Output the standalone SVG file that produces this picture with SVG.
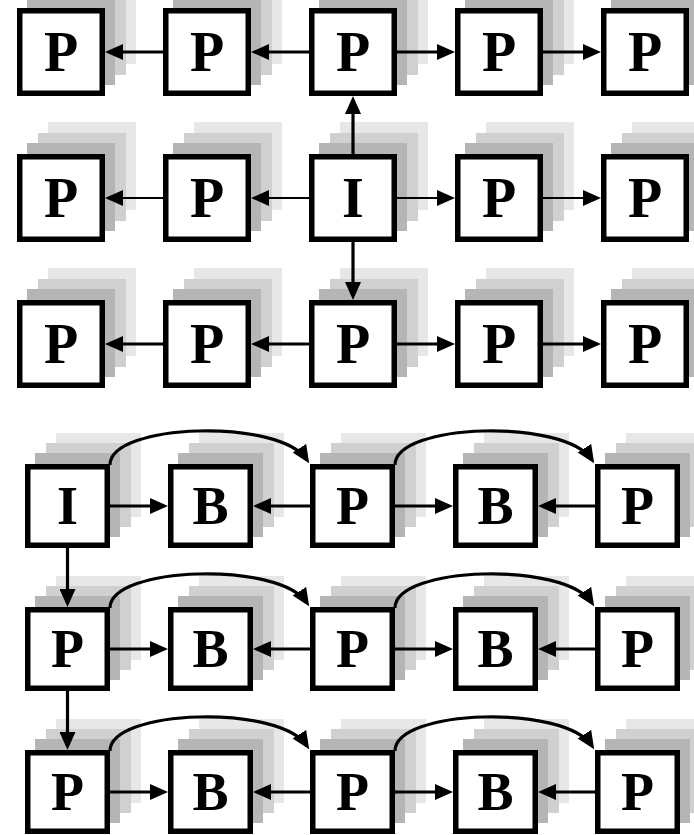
<svg xmlns="http://www.w3.org/2000/svg" xmlns:xlink="http://www.w3.org/1999/xlink" width="694" height="835" viewBox="0 0 694 835">
<style>
.bx{fill:#ffffff;stroke:#000;stroke-width:5.5}
.lt{font-family:'Liberation Serif','Times New Roman',Times,serif;font-weight:700;font-size:56px;text-anchor:middle;fill:#000}
.lb{font-family:'Liberation Serif','Times New Roman',Times,serif;font-weight:700;font-size:54px;text-anchor:middle;fill:#000}
.c{fill:none;stroke:#000;stroke-width:3.2;marker-end:url(#ah)}
.ct{fill:none;stroke:#000;stroke-width:1.8;marker-end:url(#ah)}
</style>
<defs>
<marker id="ah" markerUnits="userSpaceOnUse" viewBox="0 0 18 16" markerWidth="18" markerHeight="16" refX="14" refY="8" orient="auto">
<path d="M0,0 L18,8 L0,16 Z" fill="#000"/>
</marker>
<g id="shT">
<rect x="31" y="-32" width="88" height="88" fill="#e7e7e7"/>
<rect x="21" y="-21" width="88" height="88" fill="#d0d0d0"/>
<rect x="10" y="-11" width="88" height="88" fill="#b5b5b5"/>
</g>
<g id="shB">
<rect x="31" y="-31" width="85" height="84" fill="#e7e7e7"/>
<rect x="21" y="-21" width="85" height="84" fill="#d0d0d0"/>
<rect x="10" y="-11" width="85" height="84" fill="#b5b5b5"/>
</g>
</defs>
<rect width="694" height="835" fill="#ffffff"/>

<!-- top grid -->
<g id="t11"><use xlink:href="#shT" x="17" y="8"/><rect class="bx" x="19.75" y="10.75" width="82.5" height="82.5"/><text class="lt" font-family="Liberation Serif" x="61" y="70.5">P</text></g>
<g id="t12"><use xlink:href="#shT" x="163" y="8"/><rect class="bx" x="165.75" y="10.75" width="82.5" height="82.5"/><text class="lt" font-family="Liberation Serif" x="207" y="70.5">P</text></g>
<g id="t13"><use xlink:href="#shT" x="309" y="8"/><rect class="bx" x="311.75" y="10.75" width="82.5" height="82.5"/><text class="lt" font-family="Liberation Serif" x="353" y="70.5">P</text></g>
<g id="t14"><use xlink:href="#shT" x="455" y="8"/><rect class="bx" x="457.75" y="10.75" width="82.5" height="82.5"/><text class="lt" font-family="Liberation Serif" x="499" y="70.5">P</text></g>
<g id="t15"><use xlink:href="#shT" x="601" y="8"/><rect class="bx" x="603.75" y="10.75" width="82.5" height="82.5"/><text class="lt" font-family="Liberation Serif" x="645" y="70.5">P</text></g>

<g id="t21"><use xlink:href="#shT" x="17" y="154"/><rect class="bx" x="19.75" y="156.75" width="82.5" height="82.5"/><text class="lt" x="61" y="216.5">P</text></g>
<g id="t22"><use xlink:href="#shT" x="163" y="154"/><rect class="bx" x="165.75" y="156.75" width="82.5" height="82.5"/><text class="lt" x="207" y="216.5">P</text></g>
<g id="t23"><use xlink:href="#shT" x="309" y="154"/><rect class="bx" x="311.75" y="156.75" width="82.5" height="82.5"/><text class="lt" x="353" y="216.5">I</text></g>
<g id="t24"><use xlink:href="#shT" x="455" y="154"/><rect class="bx" x="457.75" y="156.75" width="82.5" height="82.5"/><text class="lt" x="499" y="216.5">P</text></g>
<g id="t25"><use xlink:href="#shT" x="601" y="154"/><rect class="bx" x="603.75" y="156.75" width="82.5" height="82.5"/><text class="lt" x="645" y="216.5">P</text></g>

<g id="t31"><use xlink:href="#shT" x="17" y="300"/><rect class="bx" x="19.75" y="302.75" width="82.5" height="82.5"/><text class="lt" x="61" y="362.5">P</text></g>
<g id="t32"><use xlink:href="#shT" x="163" y="300"/><rect class="bx" x="165.75" y="302.75" width="82.5" height="82.5"/><text class="lt" x="207" y="362.5">P</text></g>
<g id="t33"><use xlink:href="#shT" x="309" y="300"/><rect class="bx" x="311.75" y="302.75" width="82.5" height="82.5"/><text class="lt" x="353" y="362.5">P</text></g>
<g id="t34"><use xlink:href="#shT" x="455" y="300"/><rect class="bx" x="457.75" y="302.75" width="82.5" height="82.5"/><text class="lt" x="499" y="362.5">P</text></g>
<g id="t35"><use xlink:href="#shT" x="601" y="300"/><rect class="bx" x="603.75" y="302.75" width="82.5" height="82.5"/><text class="lt" x="645" y="362.5">P</text></g>

<!-- bottom section -->
<g id="b11"><use xlink:href="#shB" x="25" y="464"/><rect class="bx" x="27.75" y="466.75" width="79.5" height="78.5"/><text class="lb" x="67.5" y="524">I</text></g>
<g id="b12"><use xlink:href="#shB" x="168" y="464"/><rect class="bx" x="170.75" y="466.75" width="79.5" height="78.5"/><text class="lb" x="210.5" y="524">B</text></g>
<g id="b13"><use xlink:href="#shB" x="310" y="464"/><rect class="bx" x="312.75" y="466.75" width="79.5" height="78.5"/><text class="lb" x="352.5" y="524">P</text></g>
<g id="b14"><use xlink:href="#shB" x="453" y="464"/><rect class="bx" x="455.75" y="466.75" width="79.5" height="78.5"/><text class="lb" x="495.5" y="524">B</text></g>
<g id="b15"><use xlink:href="#shB" x="595" y="464"/><rect class="bx" x="597.75" y="466.75" width="79.5" height="78.5"/><text class="lb" x="637.5" y="524">P</text></g>

<g id="b21"><use xlink:href="#shB" x="25" y="607"/><rect class="bx" x="27.75" y="609.75" width="79.5" height="78.5"/><text class="lb" x="67.5" y="667">P</text></g>
<g id="b22"><use xlink:href="#shB" x="168" y="607"/><rect class="bx" x="170.75" y="609.75" width="79.5" height="78.5"/><text class="lb" x="210.5" y="667">B</text></g>
<g id="b23"><use xlink:href="#shB" x="310" y="607"/><rect class="bx" x="312.75" y="609.75" width="79.5" height="78.5"/><text class="lb" x="352.5" y="667">P</text></g>
<g id="b24"><use xlink:href="#shB" x="453" y="607"/><rect class="bx" x="455.75" y="609.75" width="79.5" height="78.5"/><text class="lb" x="495.5" y="667">B</text></g>
<g id="b25"><use xlink:href="#shB" x="595" y="607"/><rect class="bx" x="597.75" y="609.75" width="79.5" height="78.5"/><text class="lb" x="637.5" y="667">P</text></g>

<g id="b31"><use xlink:href="#shB" x="25" y="750"/><rect class="bx" x="27.75" y="752.75" width="79.5" height="78.5"/><text class="lb" x="67.5" y="810">P</text></g>
<g id="b32"><use xlink:href="#shB" x="168" y="750"/><rect class="bx" x="170.75" y="752.75" width="79.5" height="78.5"/><text class="lb" x="210.5" y="810">B</text></g>
<g id="b33"><use xlink:href="#shB" x="310" y="750"/><rect class="bx" x="312.75" y="752.75" width="79.5" height="78.5"/><text class="lb" x="352.5" y="810">P</text></g>
<g id="b34"><use xlink:href="#shB" x="453" y="750"/><rect class="bx" x="455.75" y="752.75" width="79.5" height="78.5"/><text class="lb" x="495.5" y="810">B</text></g>
<g id="b35"><use xlink:href="#shB" x="595" y="750"/><rect class="bx" x="597.75" y="752.75" width="79.5" height="78.5"/><text class="lb" x="637.5" y="810">P</text></g>

<g id="connectors">
<path class="c" d="M163,52 L109,52"/>
<path class="c" d="M309,52 L255,52"/>
<path class="c" d="M397,52 L451,52"/>
<path class="c" d="M543,52 L597,52"/>
<path class="c" d="M353,154 L353,100"/>
<path class="c" d="M353,242 L353,296"/>
<path class="ct" d="M163,198 L109,198"/>
<path class="ct" d="M309,198 L255,198"/>
<path class="ct" d="M397,198 L451,198"/>
<path class="ct" d="M543,198 L597,198"/>
<path class="c" d="M163,344 L109,344"/>
<path class="c" d="M309,344 L255,344"/>
<path class="c" d="M397,344 L451,344"/>
<path class="c" d="M543,344 L597,344"/>
<path class="c" d="M110,506 L164,506"/>
<path class="c" d="M310,506 L257,506"/>
<path class="c" d="M395,506 L449,506"/>
<path class="c" d="M595,506 L542,506"/>
<path class="c" d="M110,649 L164,649"/>
<path class="c" d="M310,649 L257,649"/>
<path class="c" d="M395,649 L449,649"/>
<path class="c" d="M595,649 L542,649"/>
<path class="c" d="M110,792 L164,792"/>
<path class="c" d="M310,792 L257,792"/>
<path class="c" d="M395,792 L449,792"/>
<path class="c" d="M595,792 L542,792"/>
<path class="c" d="M67.5,548 L67.5,603"/>
<path class="c" d="M67.5,691 L67.5,746"/>
<path class="c" d="M110,465 C110,423 280,418 307,460"/>
<path class="c" d="M395,465 C395,423 565,418 592,460"/>
<path class="c" d="M110,608 C110,566 280,561 307,603"/>
<path class="c" d="M395,608 C395,566 565,561 592,603"/>
<path class="c" d="M110,751 C110,709 280,704 307,746"/>
<path class="c" d="M395,751 C395,709 565,704 592,746"/>
</g>
</svg>
